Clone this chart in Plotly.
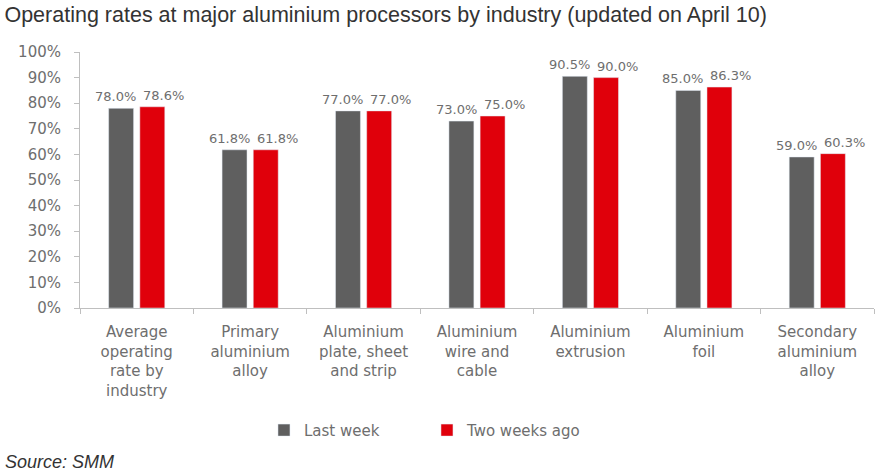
import plotly.graph_objects as go

categories = [
    "Average<br>operating<br>rate by<br>industry",
    "Primary<br>aluminium<br>alloy",
    "Aluminium<br>plate, sheet<br>and strip",
    "Aluminium<br>wire and<br>cable",
    "Aluminium<br>extrusion",
    "Aluminium<br>foil",
    "Secondary<br>aluminium<br>alloy",
]
last_week = [78.0, 61.8, 77.0, 73.0, 90.5, 85.0, 59.0]
two_weeks_ago = [78.6, 61.8, 77.0, 75.0, 90.0, 86.3, 60.3]
y_ticks = [0, 10, 20, 30, 40, 50, 60, 70, 80, 90, 100]

GRAY_TXT = "#6e6e6e"
FONT = "DejaVu Sans"

fig = go.Figure()
fig.add_bar(
    x=categories, y=[v / 100 for v in last_week], name="Last week",
    marker=dict(color="#5f5f5f"),
)
fig.add_bar(
    x=categories, y=[v / 100 for v in two_weeks_ago], name="Two weeks ago",
    marker=dict(color="#e0000b"),
)

# data labels (nudged apart like the original)
for cat, v in zip(categories, last_week):
    fig.add_annotation(
        x=cat, y=v / 100, xref="x", yref="y", text=f"{v:.1f}%",
        showarrow=False, xanchor="center", yanchor="bottom",
        xshift=-21, yshift=2,
        font=dict(family=FONT, size=13, color=GRAY_TXT),
    )
for cat, v in zip(categories, two_weeks_ago):
    fig.add_annotation(
        x=cat, y=v / 100, xref="x", yref="y", text=f"{v:.1f}%",
        showarrow=False, xanchor="center", yanchor="bottom",
        xshift=27, yshift=2,
        font=dict(family=FONT, size=13, color=GRAY_TXT),
    )

fig.update_layout(
    width=890, height=475,
    margin=dict(l=80, r=16, t=52, b=167),
    paper_bgcolor="white", plot_bgcolor="white",
    barmode="group", bargap=0.45, bargroupgap=0.2,
    title=dict(
        text="Operating rates at major aluminium processors by industry (updated on April 10)",
        x=0.005, xanchor="left", y=0.985, yanchor="top",
        font=dict(family="Liberation Sans, Arial", size=21.5, color="#333333"),
    ),
    legend=dict(
        orientation="h", x=0.437, xanchor="center", y=-0.478, yanchor="middle",
        font=dict(family=FONT, size=15, color=GRAY_TXT),
        itemwidth=30, traceorder="normal",
        entrywidth=118, entrywidthmode="pixels",
    ),
)
fig.update_xaxes(
    showline=True, linecolor="#bfbfbf", linewidth=1,
    ticks="outside", tickson="boundaries", ticklen=5, tickcolor="#bfbfbf",
    tickfont=dict(family=FONT, size=15, color=GRAY_TXT),
    ticklabelstandoff=10,
    showgrid=False,
)
fig.update_yaxes(
    range=[0, 1], tickvals=[t / 100 for t in y_ticks],
    ticktext=[f"{t}%" for t in y_ticks],
    showline=True, linecolor="#bfbfbf", linewidth=1,
    ticks="outside", ticklen=5, tickcolor="#bfbfbf",
    tickfont=dict(family=FONT, size=15, color=GRAY_TXT),
    ticklabelstandoff=10,
    showgrid=False, zeroline=False,
)
fig.add_annotation(
    text="<i>Source: SMM</i>", xref="paper", yref="paper",
    x=-0.097, xanchor="left", y=-0.6, yanchor="middle", showarrow=False,
    font=dict(family="Liberation Sans, Arial", size=18, color="#333333"),
)

fig.write_html("out.html")
